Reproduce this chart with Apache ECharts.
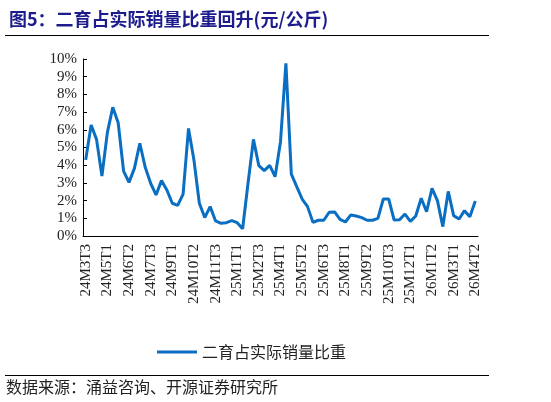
<!DOCTYPE html>
<html><head><meta charset="utf-8">
<script src="https://cdn.jsdelivr.net/npm/echarts@6/dist/echarts.min.js"></script>
<style>html,body{margin:0;padding:0;background:#fff}#c{width:551px;height:402px}</style>
</head><body><div id="c"></div>
<script>
const periods = [
  '24M3T3','24M4T1','24M4T2','24M4T3','24M5T1','24M5T2','24M5T3','24M6T1','24M6T2','24M6T3',
  '24M7T1','24M7T2','24M7T3','24M8T1','24M8T2','24M8T3','24M9T1','24M9T2','24M9T3','24M10T1',
  '24M10T2','24M10T3','24M11T1','24M11T2','24M11T3','24M12T1','24M12T2','24M12T3','25M1T1','25M1T2',
  '25M1T3','25M2T2','25M2T3','25M3T1','25M3T2','25M3T3','25M4T1','25M4T2','25M4T3','25M5T1',
  '25M5T2','25M5T3','25M6T1','25M6T2','25M6T3','25M7T1','25M7T2','25M7T3','25M8T1','25M8T2',
  '25M8T3','25M9T1','25M9T2','25M9T3','25M10T1','25M10T2','25M10T3','25M11T1','25M11T2','25M11T3',
  '25M12T1','25M12T2','25M12T3','26M1T1','26M1T2','26M1T3','26M2T1','26M2T3','26M3T1','26M3T2',
  '26M3T3','26M4T1','26M4T2'
];
const share = [
  4.3,6.27,5.46,3.39,5.84,7.27,6.4,3.67,3.03,3.82,
  5.24,3.88,2.98,2.32,3.13,2.6,1.85,1.73,2.37,6.08,
  4.3,1.85,1.04,1.66,0.85,0.72,0.75,0.87,0.75,0.41,
  2.98,5.46,3.97,3.69,3.99,3.35,5.33,9.75,3.5,2.79,
  2.09,1.66,0.77,0.89,0.89,1.34,1.36,0.94,0.79,1.19,
  1.13,1.04,0.89,0.89,1.0,2.09,2.09,0.9,0.92,1.24,
  0.83,1.13,2.13,1.37,2.69,2.0,0.53,2.52,1.15,0.96,
  1.43,1.09,1.98
];
const seriesName = '二育占实际销量比重';

const chart = echarts.init(document.getElementById('c'));
chart.setOption({
  animation: false,
  title: {
    text: '图5：二育占实际销量比重回升(元/公斤)',
    left: 4, top: 5,
    textStyle: { color: '#1c1c8c', fontSize: 18, fontWeight: 'bold', fontFamily: 'Noto Sans CJK SC' }
  },
  graphic: [
    { type: 'line', shape: { x1: 5, y1: 35.5, x2: 489, y2: 35.5 }, style: { stroke: '#000', lineWidth: 1 } },
    { type: 'line', shape: { x1: 5, y1: 375.5, x2: 489, y2: 375.5 }, style: { stroke: '#000', lineWidth: 1 } },
    { type: 'text', left: 6, top: 379, style: { text: '数据来源：涌益咨询、开源证券研究所', fill: '#222', font: '16px "Noto Sans CJK SC"' } }
  ],
  legend: {
    data: [seriesName], left: 152, top: 339,
    itemWidth: 40, itemHeight: 3, icon: 'rect', itemGap: 5,
    textStyle: { fontSize: 16, color: '#222', fontFamily: 'Noto Sans CJK SC' }
  },
  grid: { left: 83, right: 73, top: 59, bottom: 166 },
  xAxis: {
    type: 'category', data: periods, boundaryGap: true,
    axisLine: { lineStyle: { color: '#000' } },
    axisTick: { interval: 0, lineStyle: { color: '#000' }, length: 5, inside: true },
    axisLabel: { interval: 3, rotate: 90, color: '#222', fontSize: 15, fontFamily: 'Liberation Serif', margin: 8 }
  },
  yAxis: {
    type: 'value', min: 0, max: 10, interval: 1,
    splitLine: { show: false },
    axisLine: { show: true, lineStyle: { color: '#000' } },
    axisTick: { show: true, inside: true, length: 4, lineStyle: { color: '#000' } },
    axisLabel: { formatter: '{value}%', color: '#222', fontSize: 15, fontFamily: 'Liberation Serif', margin: 6 }
  },
  series: [{
    name: seriesName, type: 'line', data: share, showSymbol: false,
    lineStyle: { color: '#0a6fc2', width: 3 }, itemStyle: { color: '#0a6fc2' }
  }]
});
</script></body></html>
